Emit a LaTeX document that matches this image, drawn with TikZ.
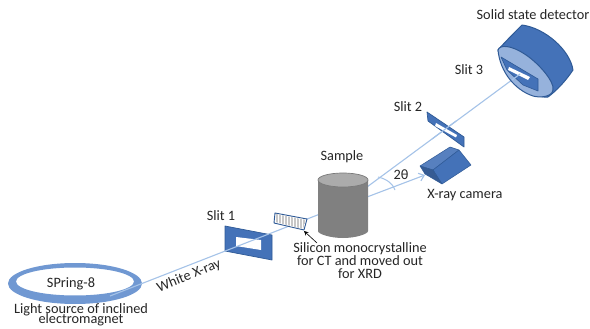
\documentclass[tikz,border=0pt]{standalone}
\usepackage{fontspec}
\setmainfont{Carlito}
\usetikzlibrary{arrows.meta}
\definecolor{bluedark}{RGB}{47,90,150}
\definecolor{bluefill}{RGB}{68,114,184}
\definecolor{bluelite}{RGB}{150,178,220}
\definecolor{beam}{RGB}{165,195,232}
\definecolor{ringc}{RGB}{112,152,210}
\tikzset{x=1pt,y=-1pt,
 lbl/.style={font=\fontsize{14.3pt}{13pt}\selectfont,text=black!85,inner sep=0pt,align=center},
 beamline/.style={draw=beam,line width=1.1pt},
 blueshape/.style={fill=bluefill,draw=bluedark,line width=0.7pt,line join=round},
 hole/.style={fill=white,draw=none}}
\begin{document}
\begin{tikzpicture}
\useasboundingbox (0,0) rectangle (590,329);
\fill[white] (0,0) rectangle (590,329);
% ring
\fill[ringc,even odd rule] (75,283.5) ellipse (67 and 20.5) (75,281.5) ellipse (59 and 14);
% beams
\coordinate (ringout) at (110,296);
\coordinate (smpin) at (320,214);
\coordinate (smpout) at (367,187);
\coordinate (smpout2) at (367,197);
\coordinate (det) at (520,74);
\coordinate (cam) at (425,175);
% slit 1 (beam runs in front)
\fill[blueshape] (225,226) -- (272,235) -- (272,260) -- (225,251) -- cycle;
\fill[hole] (236,237) -- (261,240) -- (261,250) -- (236,246) -- cycle;
\draw[beamline] (ringout) -- (smpin);
\draw[beamline] (smpout) -- (det);
\draw[beamline,-{Straight Barb[length=5pt,width=8pt]}] (smpout2) -- (cam);
% arc
\draw[beam,line width=1pt] (378,177) .. controls (387,179) and (393,184) .. (395,190);
% silicon
\draw[draw=bluedark,fill=white,line width=0.9pt,line join=round] (275,213) -- (307,219) -- (304,230) -- (274,223) -- cycle;
\begin{scope}
\clip (276,214) -- (306,220) -- (303,229) -- (275,222) -- cycle;
\foreach \i in {0,1.5,...,33} {\draw[black!22,line width=.9pt] (274.5+\i,210) -- (274.5+\i,232);}
\end{scope}
% sample
\fill[black!50] (318,180) -- (318,231) .. controls (318,234) and (330,238) .. (343,238) .. controls (356,238) and (368,234) .. (368,231) -- (368,180) -- cycle;
\fill[black!33] (343,180) ellipse (25 and 7);
\draw[black!52,line width=0.7pt] (343,180) ellipse (25 and 7);
% pointer
\coordinate (pt) at (317,243);
\coordinate (si) at (304,231);
\draw[-{Stealth[length=4.5pt,width=4.5pt]},black,line width=0.6pt] (pt) -- (si);
% slit 2
\fill[blueshape] (427,112) -- (464,137) -- (464,147) -- (428,121) -- cycle;
\fill[hole] (436,123) -- (457,135) -- (456,137.5) -- (435,126) -- cycle;
\draw[beamline] (432,139) -- (456,121);
% camera
\fill[fill=bluefill!90!white,draw=bluedark,line width=.5pt,line join=round] (420,166) -- (450,147) -- (459,150) -- (433,170) -- cycle;
\fill[fill=bluefill,draw=bluedark,line width=.5pt,line join=round] (433,170) -- (459,150) -- (471,165) -- (442,184) -- cycle;
\fill[fill=bluefill!80!black,draw=bluedark,line width=.5pt,line join=round] (420,166) -- (433,170) -- (442,184) -- (425,174) -- cycle;
% detector
\fill[blueshape,line width=1pt] (498,50) .. controls (505,42) and (515,32) .. (522,25) .. controls (545,28) and (570,50) .. (573,70) .. controls (565,82) and (556,91) .. (548,97) .. controls (530,99) and (503,75) .. (498,50) -- cycle;
\fill[fill=bluelite,draw=bluedark,line width=1pt] (498,50) .. controls (500,44) and (512,46) .. (523,53) .. controls (538,62) and (555,82) .. (553,90) .. controls (552,97) and (540,98) .. (533,96) .. controls (515,90) and (500,72) .. (498,50) -- cycle;
\fill[fill=bluefill,draw=bluedark,line width=.6pt,line join=round] (501,57) -- (538,79) -- (538,91) -- (523,85) -- (507,70) -- cycle;
\fill[hole] (509,67) -- (530,77) -- (528,80) -- (508,70) -- cycle;
\draw[beamline] (512,80) -- (520,74);
% labels
\node[lbl] (n1) at (71,284) {SPring-8};
\node[lbl] (n2a) at (81,310) {Light source of inclined};
\node[lbl] (n2b) at (81,320) {electromagnet};
\node[lbl,rotate=22] (n3) at (189,276) {White X-ray};
\node[lbl] (n4) at (221,216) {Slit 1};
\node[lbl] (n5) at (342,157) {Sample};
\node[lbl] (n6) at (360,261) {Silicon monocrystalline\\for CT and moved out\\for XRD};
\node[lbl] (n7) at (401,175) {2θ};
\node[lbl] (n8) at (465,195) {X-ray camera};
\node[lbl] (n9) at (408,107) {Slit 2};
\node[lbl] (n10) at (469,70) {Slit 3};
\node[lbl] (n11) at (533,15) {Solid state detector};
\end{tikzpicture}
\end{document}
